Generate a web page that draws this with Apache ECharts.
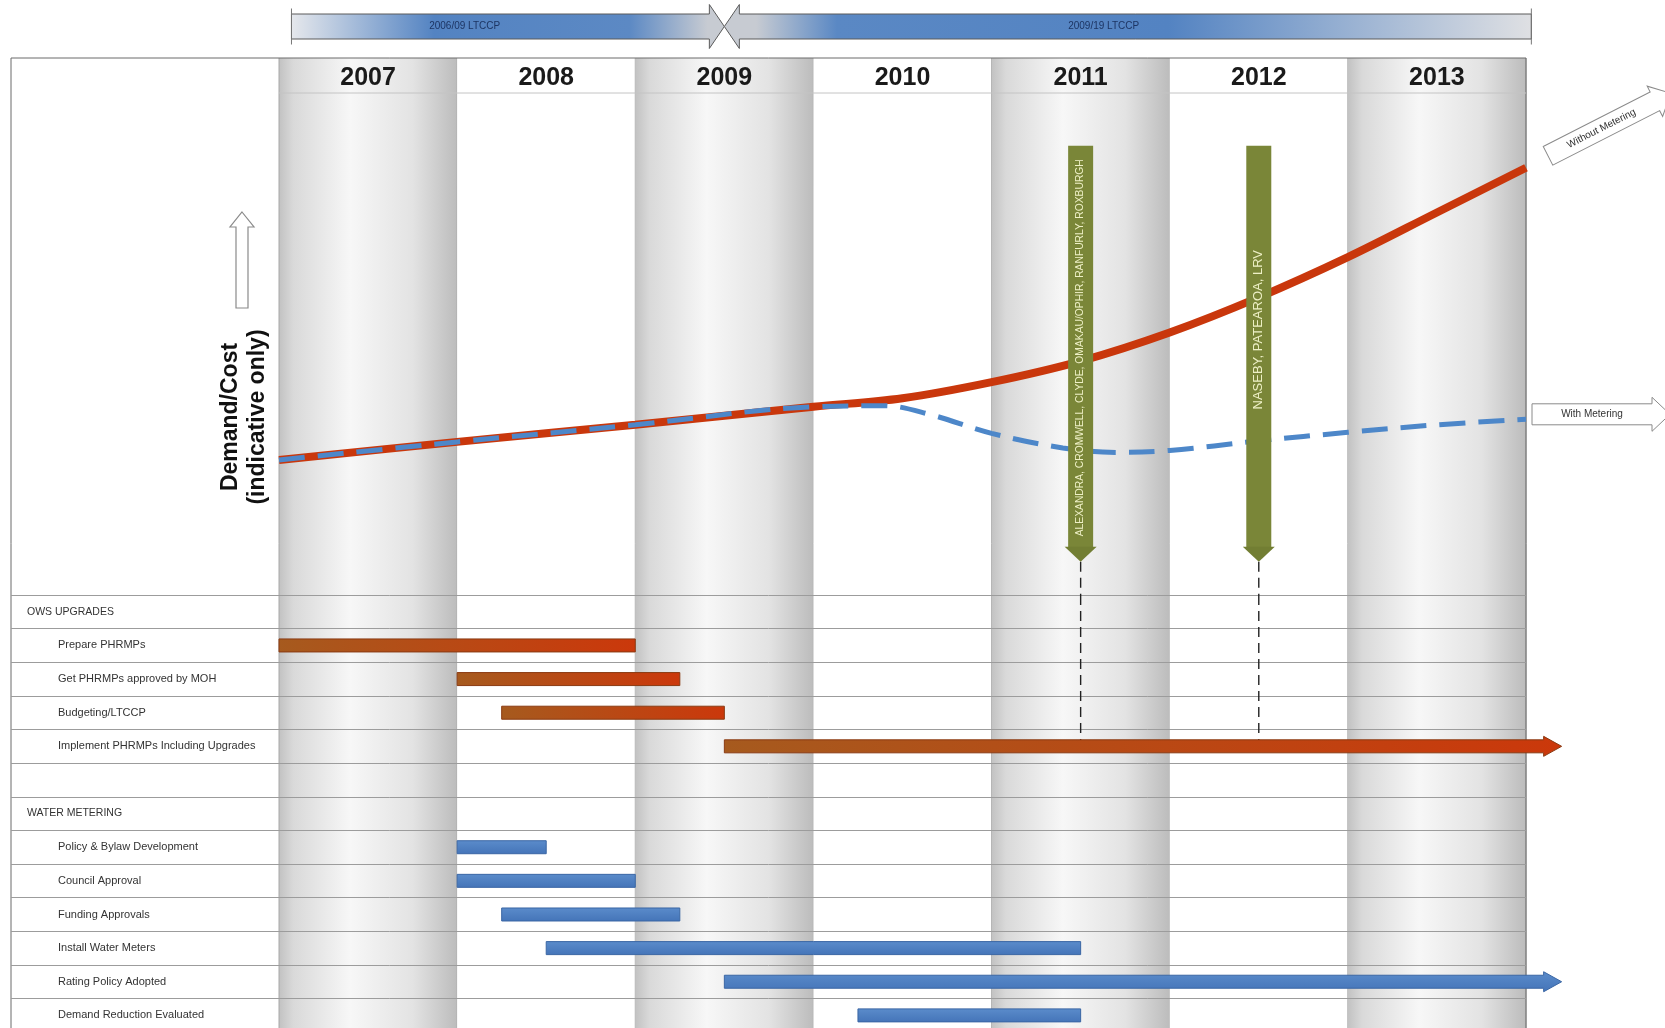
<!DOCTYPE html>
<html><head><meta charset="utf-8">
<script src="https://cdn.jsdelivr.net/npm/echarts@6.0.0/dist/echarts.min.js"></script>
<style>html,body{margin:0;padding:0;background:#fff}#c{width:1665px;height:1028px}</style>
</head><body><div id="c"></div>
<script>
// ---------------- DATA ----------------
const years = ['2007','2008','2009','2010','2011','2012','2013'];
const ltccpLabels = ['2006/09 LTCCP','2009/19 LTCCP'];
const ltccpStart = [0.07, 2.5];
const ltccpEnd = [2.5, 7.03];

const demandX = [0,1,2,3,3.5,4,4.5,5,5.5,6,6.5,7];
const withoutMetering = [26.9,30.5,33.9,37.5,39.2,42.4,46.6,52.3,59.3,67.3,76.2,85.1];
const meteredX = [0,1,2,3,3.4,3.65,4,4.4,4.7,5,5.5,6,6.5,7];
const withMetering = [26.9,30.5,33.9,37.5,37.7,36.0,32.2,29.3,28.4,28.8,30.7,32.4,33.9,35.0];
const curveNames = ['Without Metering','With Metering'];

const milestoneX = [4.5, 5.5];
const milestoneLabels = ['ALEXANDRA, CROMWELL, CLYDE, OMAKAU/OPHIR, RANFURLY, ROXBURGH','NASEBY, PATEAROA, LRV'];
const milestoneTaskRow = 4;

const rows = ['OWS UPGRADES','Prepare PHRMPs','Get PHRMPs approved by MOH','Budgeting/LTCCP','Implement PHRMPs Including Upgrades','',
  'WATER METERING','Policy & Bylaw Development','Council Approval','Funding Approvals','Install Water Meters','Rating Policy Adopted','Demand Reduction Evaluated'];
const sectionRows = ['OWS UPGRADES','WATER METERING'];

const taskRow     = [1,   2,    3,    4,   7,   8,   9,    10,  11,  12];
const taskStart   = [0,   1,    1.25, 2.5, 1,   1,   1.25, 1.5, 2.5, 3.25];
const taskEnd     = [2,   2.25, 2.5,  7.2, 1.5, 2,   2.25, 4.5, 7.2, 4.5];
const taskGroup   = ['ows','ows','ows','ows','meter','meter','meter','meter','meter','meter'];
const taskOngoing = [0,   0,    0,    1,   0,   0,   0,    0,   1,   0];

// ---------------- LAYOUT ----------------
const L = {frameLeft:11, plotLeft:279, plotW:1247, tableTop:58, headerH:35, chartBottom:595, rowH:33.63};
const nCols = years.length;
const colW = L.plotW / nCols;
const ganttMin = -(L.plotLeft - L.frameLeft) / colW;
const frameW = L.plotLeft + L.plotW - L.frameLeft;
const FONT = '"Liberation Sans", Arial, sans-serif';
const milestoneFont = [10.3, 13];
const milestoneTextShift = [0, -18];

const G = echarts.graphic;
function colGrad(){
  return new G.LinearGradient(0,0,1,0,[
    {offset:0,color:'#c2c2c2'},{offset:0.08,color:'#d9d9d9'},{offset:0.4,color:'#f7f7f7'},
    {offset:0.75,color:'#e3e3e3'},{offset:1,color:'#bcbcbc'}]);
}

function renderColumns(params, api){
  const i = params.dataIndex;
  const p0 = api.coord([api.value(0), 1]);
  const p1 = api.coord([api.value(1), 0]);
  const ch = [
    {type:'rect', shape:{x:p0[0], y:p0[1], width:p1[0]-p0[0], height:p1[1]-p0[1]},
     style:{fill: i % 2 === 0 ? colGrad() : '#ffffff'}},
    {type:'line', shape:{x1:p1[0], y1:p0[1], x2:p1[0], y2:p1[1]}, style:{stroke:'#a8a8a8', lineWidth:1}}
  ];
  if (i === 0) ch.push({type:'line', shape:{x1:p0[0], y1:p0[1], x2:p0[0], y2:p1[1]}, style:{stroke:'#a8a8a8', lineWidth:1}});
  return {type:'group', children:ch};
}

function renderHeader(params, api){
  const i = params.dataIndex;
  const c = api.coord([api.value(0), 0.42]);
  const a = api.coord([i, 0]);
  const b = api.coord([i+1, 0]);
  return {type:'group', children:[
    {type:'line', shape:{x1:a[0], y1:a[1], x2:b[0], y2:b[1]}, style:{stroke:'#c4c4c4', lineWidth:1}},
    {type:'text', x:c[0], y:c[1], style:{text:years[i], align:'center', verticalAlign:'middle',
      font:'bold 25px ' + FONT, fill:'#1a1a1a'}}
  ]};
}

function renderBanner(params, api){
  const i = params.dataIndex;
  const xs = api.coord([api.value(0), 0.5])[0];
  const xe = api.coord([api.value(1), 0.5])[0];
  const c = api.coord([0, 0.5])[1];
  const h = 12.5, H = 22, hd = 15;
  let pts, grad;
  if (i === 0) {
    pts = [[xs,c-h],[xe-hd,c-h],[xe-hd,c-H],[xe,c],[xe-hd,c+H],[xe-hd,c+h],[xs,c+h]];
    grad = new G.LinearGradient(0,0,1,0,[{offset:0,color:'#e6e8ec'},{offset:0.33,color:'#5383c2'},
      {offset:0.78,color:'#5c89c4'},{offset:0.96,color:'#c7cbd2'},{offset:1,color:'#c7cbd2'}]);
  } else {
    pts = [[xs,c],[xs+hd,c-H],[xs+hd,c-h],[xe,c-h],[xe,c+h],[xs+hd,c+h],[xs+hd,c+H]];
    grad = new G.LinearGradient(0,0,1,0,[{offset:0,color:'#c7cbd2'},{offset:0.04,color:'#c7cbd2'},
      {offset:0.14,color:'#5a88c4'},{offset:0.55,color:'#5383c2'},{offset:1,color:'#dfe0e3'}]);
  }
  const ratio = i === 0 ? 0.4 : 0.47;
  const tx = xs + (xe - xs) * ratio;
  return {type:'group', children:[
    {type:'polygon', shape:{points:pts}, style:{fill:grad, stroke:'#5a5a5a', lineWidth:1}},
    {type:'line', shape:{x1:i===0?xs:xe, y1:c-H+4, x2:i===0?xs:xe, y2:c+H-4}, style:{stroke:'#777', lineWidth:1}},
    {type:'text', x:tx, y:c, style:{text:ltccpLabels[i], align:'center', verticalAlign:'middle',
      font:'10px ' + FONT, fill:'#1d3563'}}
  ]};
}

function renderMilestones(params, api){
  const i = params.dataIndex;
  const x = api.value(0);
  const cx = api.coord([x, 0])[0];
  const top = api.coord([x, 89.5])[1];
  const bodyBot = api.coord([x, 9])[1];
  const tip = api.coord([x, 6.6])[1];
  const base = api.coord([x, 0])[1];
  return {type:'group', children:[
    {type:'line', shape:{x1:cx, y1:tip, x2:cx, y2:base}, style:{stroke:'#222', lineWidth:1.4, lineDash:[10,6]}},
    {type:'rect', shape:{x:cx-12.5, y:top, width:25, height:bodyBot-top}, style:{fill:'#7a8638'}},
    {type:'polygon', shape:{points:[[cx-16,bodyBot-3],[cx+16,bodyBot-3],[cx,tip]]}, style:{fill:'#727e33'}},
    {type:'text', x:cx, y:(top+bodyBot)/2 + milestoneTextShift[i], rotation:Math.PI/2,
      style:{text:milestoneLabels[i], align:'center', verticalAlign:'middle', font:milestoneFont[i] + 'px ' + FONT, fill:'#eef0c6'}}
  ]};
}

function arrowPts(len, h, H, head){
  return [[0,-h/2],[len-head,-h/2],[len-head,-H/2],[len,0],[len-head,H/2],[len-head,h/2],[0,h/2]];
}
const endArrowStyle = [{dx:22, dy:-12, rot:27*Math.PI/180}, {dx:6, dy:-5, rot:0}];
function renderEndArrows(params, api){
  const i = params.dataIndex;
  const p = api.coord([api.value(0), api.value(1)]);
  const s = endArrowStyle[i];
  const len = 138, head = 18;
  return {type:'group', x:p[0]+s.dx, y:p[1]+s.dy, rotation:s.rot, children:[
    {type:'polygon', shape:{points:arrowPts(len, 21, 34, head)}, style:{fill:'#ffffff', stroke:'#8a8a8a', lineWidth:1}},
    {type:'text', x:(len-head)/2, y:0, style:{text:curveNames[i], align:'center', verticalAlign:'middle',
      font:'10px ' + FONT, fill:'#333'}}
  ]};
}

function renderTasks(params, api){
  const i = params.dataIndex;
  const s = api.coord([api.value(0), api.value(2)]);
  const e = api.coord([api.value(1), api.value(2)]);
  const ows = taskGroup[i] === 'ows';
  const fill = ows
    ? new G.LinearGradient(0,0,1,0,[{offset:0,color:'#a65a1e'},{offset:1,color:'#cb380b'}])
    : new G.LinearGradient(0,0,0,1,[{offset:0,color:'#5b8ccb'},{offset:1,color:'#4474b8'}]);
  const stroke = ows ? '#8a3a12' : '#3a66a4';
  const h = 13, head = 18, H = 20;
  const y = s[1];
  if (taskOngoing[i]) {
    return {type:'polygon', shape:{points:[[s[0],y-h/2],[e[0]-head,y-h/2],[e[0]-head,y-H/2],[e[0],y],[e[0]-head,y+H/2],[e[0]-head,y+h/2],[s[0],y+h/2]]},
      style:{fill:fill, stroke:stroke, lineWidth:1}};
  }
  return {type:'rect', shape:{x:s[0], y:y-h/2, width:e[0]-s[0], height:h}, style:{fill:fill, stroke:stroke, lineWidth:1}};
}

function renderGanttMilestones(params, api){
  const x = api.value(0);
  const p = api.coord([x, api.value(1)]);
  const bandH = api.size([0, 1])[1];
  const top = api.coord([x, 0])[1] - bandH/2;
  return {type:'line', shape:{x1:p[0], y1:top, x2:p[0], y2:p[1]}, style:{stroke:'#222', lineWidth:1.4, lineDash:[10,6]}};
}

const chart = echarts.init(document.getElementById('c'));
const hiddenVal = (gi, min, max) => ({gridIndex:gi, type:'value', min:min, max:max, show:false});

const upX = L.plotLeft - 37;
chart.setOption({
  animation:false,
  backgroundColor:'#ffffff',
  textStyle:{fontFamily:FONT},
  grid:[
    {left:L.frameLeft, top:L.tableTop, width:frameW, height:1000, show:true, borderColor:'#6b6b6b', borderWidth:1, backgroundColor:'transparent', outerBoundsMode:'none'},
    {left:L.plotLeft, top:L.tableTop, width:L.plotW, height:L.headerH, outerBoundsMode:'none'},
    {left:L.plotLeft, top:L.tableTop+L.headerH, width:L.plotW, height:L.chartBottom-L.tableTop-L.headerH, outerBoundsMode:'none'},
    {left:L.frameLeft, top:L.chartBottom, width:frameW, height:rows.length*L.rowH, outerBoundsMode:'none'},
    {left:L.plotLeft, top:4, width:L.plotW, height:45, outerBoundsMode:'none'}
  ],
  xAxis:[
    hiddenVal(0, ganttMin, nCols),
    hiddenVal(1, 0, nCols),
    hiddenVal(2, 0, nCols),
    hiddenVal(3, ganttMin, nCols),
    hiddenVal(4, 0, nCols)
  ],
  yAxis:[
    hiddenVal(0, 0, 1),
    hiddenVal(1, 0, 1),
    {gridIndex:2, type:'value', min:0, max:100, axisLine:{show:false}, axisTick:{show:false}, axisLabel:{show:false}, splitLine:{show:false},
      name:'Demand/Cost\n(indicative only)', nameLocation:'middle', nameRotate:90, nameGap:8,
      nameTextStyle:{fontSize:23, fontWeight:'bold', color:'#111', lineHeight:27, padding:[0,146,0,0]}},
    {gridIndex:3, type:'category', data:rows, inverse:true,
      axisLine:{show:false}, axisTick:{show:false},
      axisLabel:{inside:true, margin:16, align:'left',
        formatter:v => v === '' ? '' : (sectionRows.includes(v) ? '{h|' + v + '}' : '{i|' + v + '}'),
        rich:{h:{fontSize:10.5, color:'#333'}, i:{fontSize:11, color:'#333', padding:[0,0,0,31]}}},
      splitLine:{show:true, lineStyle:{color:'#9c9c9c', width:1}}},
    hiddenVal(4, 0, 1)
  ],
  graphic:[
    {type:'polygon', shape:{points:[[upX,212],[upX+12,227],[upX+6,227],[upX+6,308],[upX-6,308],[upX-6,227],[upX-12,227]]},
      style:{fill:'#ffffff', stroke:'#8a8a8a', lineWidth:1.2}}
  ],
  series:[
    {type:'custom', name:'columns', xAxisIndex:0, yAxisIndex:0, z:-1, silent:true,
      data:years.map((y,i)=>[i, i+1]), encode:{x:[0,1]}, renderItem:renderColumns},
    {type:'custom', name:'header', xAxisIndex:1, yAxisIndex:1, silent:true,
      data:years.map((y,i)=>[i+0.5]), encode:{x:0}, renderItem:renderHeader},
    {type:'custom', name:'ltccp', xAxisIndex:4, yAxisIndex:4, silent:true,
      data:ltccpStart.map((s,i)=>[s, ltccpEnd[i]]), encode:{x:[0,1]}, renderItem:renderBanner},
    {type:'line', name:curveNames[0], xAxisIndex:2, yAxisIndex:2, z:3, smooth:0.35, symbol:'none',
      data:demandX.map((x,i)=>[x, withoutMetering[i]]), lineStyle:{color:'#c9370c', width:8}},
    {type:'line', name:curveNames[1], xAxisIndex:2, yAxisIndex:2, z:4, smooth:0.35, symbol:'none',
      data:meteredX.map((x,i)=>[x, withMetering[i]]), lineStyle:{color:'#4d87c9', width:5, type:[26,13]}},
    {type:'custom', name:'milestones', xAxisIndex:2, yAxisIndex:2, z:5, clip:false, silent:true,
      data:milestoneX.map(x=>[x]), encode:{x:0}, renderItem:renderMilestones},
    {type:'custom', name:'endArrows', xAxisIndex:2, yAxisIndex:2, z:5, clip:false, silent:true,
      data:[[demandX[demandX.length-1], withoutMetering[withoutMetering.length-1]], [meteredX[meteredX.length-1], withMetering[withMetering.length-1]]],
      encode:{x:0, y:1}, renderItem:renderEndArrows},
    {type:'custom', name:'milestoneLinks', xAxisIndex:3, yAxisIndex:3, z:3, clip:false, silent:true,
      data:milestoneX.map(x=>[x, milestoneTaskRow]), encode:{x:0, y:1}, renderItem:renderGanttMilestones},
    {type:'custom', name:'tasks', xAxisIndex:3, yAxisIndex:3, z:4, clip:false, silent:true,
      data:taskRow.map((r,i)=>[taskStart[i], taskEnd[i], r]), encode:{x:[0,1], y:2}, renderItem:renderTasks}
  ]
});
</script>
</body></html>
